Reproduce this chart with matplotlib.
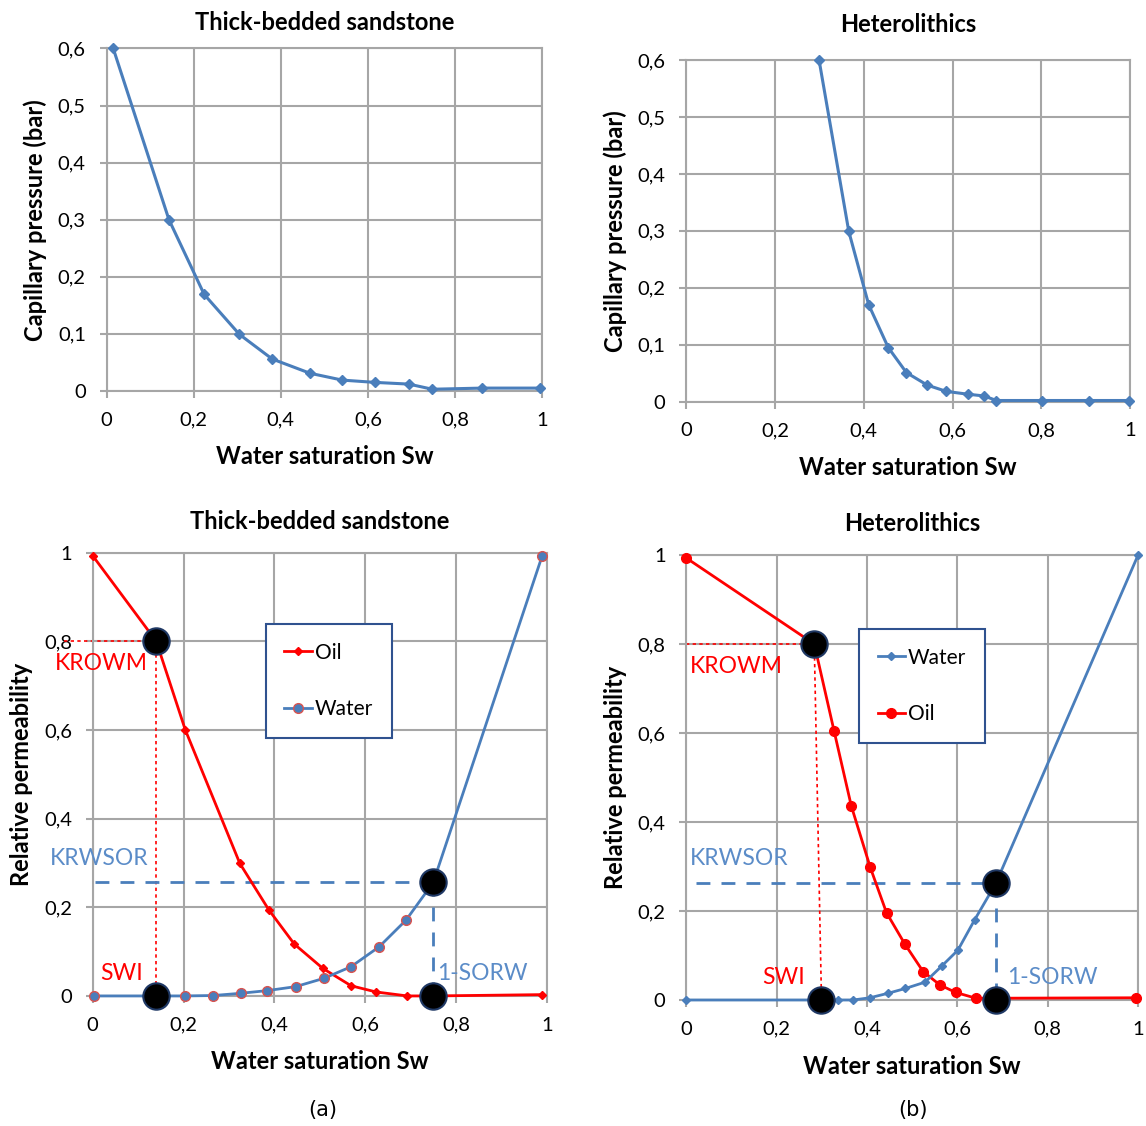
import matplotlib
matplotlib.use('Agg')
import matplotlib.pyplot as plt
from matplotlib.ticker import FuncFormatter, MultipleLocator

plt.rcParams['font.family'] = ['Lato', 'DejaVu Sans']

BLUE = '#4A7EBB'
LBLUE = '#5B8CC8'
RED = '#FF0000'
GRID = '#A6A6A6'

# capillary pressure, thick-bedded sandstone
pc_sand_sw = [0.015, 0.143, 0.224, 0.305, 0.380, 0.467, 0.541, 0.616, 0.694, 0.748, 0.863, 0.995]
pc_sand = [0.600, 0.300, 0.169, 0.099, 0.056, 0.031, 0.019, 0.015, 0.012, 0.003, 0.005, 0.005]

# capillary pressure, heterolithics
pc_het_sw = [0.299, 0.366, 0.411, 0.455, 0.496, 0.543, 0.586, 0.635, 0.671, 0.699, 0.802, 0.908, 0.998]
pc_het = [0.600, 0.299, 0.170, 0.095, 0.051, 0.029, 0.018, 0.013, 0.010, 0.002, 0.002, 0.002, 0.002]

# relative permeability, thick-bedded sandstone
kro_sand_sw = [0.0, 0.14, 0.204, 0.324, 0.388, 0.444, 0.507, 0.569, 0.624, 0.693, 0.75, 0.99]
kro_sand = [0.993, 0.80, 0.60, 0.299, 0.194, 0.117, 0.062, 0.023, 0.009, 0.0, 0.0, 0.003]
krw_sand_sw = [0.003, 0.14, 0.203, 0.266, 0.326, 0.384, 0.447, 0.510, 0.569, 0.631, 0.690, 0.750, 0.99]
krw_sand = [0.0, 0.0, 0.0, 0.001, 0.006, 0.012, 0.021, 0.040, 0.066, 0.111, 0.171, 0.256, 0.993]

# relative permeability, heterolithics
kro_het_sw = [0.0, 0.283, 0.327, 0.365, 0.407, 0.443, 0.484, 0.524, 0.561, 0.596, 0.641, 0.685, 0.996]
kro_het = [0.993, 0.80, 0.604, 0.436, 0.298, 0.196, 0.125, 0.064, 0.034, 0.017, 0.004, 0.004, 0.005]
krw_het_sw = [0.0, 0.299, 0.336, 0.369, 0.406, 0.446, 0.485, 0.528, 0.565, 0.601, 0.638, 0.685, 1.0]
krw_het = [0.0, 0.0, 0.0, 0.0, 0.005, 0.015, 0.026, 0.040, 0.076, 0.112, 0.180, 0.262, 1.0]

# end points: (sw at krowm, krowm, swi, 1-sorw, krwsor)
ends_sand = (0.14, 0.80, 0.14, 0.75, 0.256)
ends_het = (0.283, 0.80, 0.299, 0.685, 0.262)


def comma(v, pos):
    s = '{:g}'.format(round(v, 2))
    return s.replace('.', ',')


def style_axes(ax, ymax, ystep):
    ax.set_xlim(0, 1)
    ax.set_ylim(0, ymax)
    ax.xaxis.set_major_locator(MultipleLocator(0.2))
    ax.yaxis.set_major_locator(MultipleLocator(ystep))
    ax.xaxis.set_major_formatter(FuncFormatter(comma))
    ax.yaxis.set_major_formatter(FuncFormatter(comma))
    ax.grid(True, color=GRID, lw=1.5)
    ax.set_axisbelow(True)
    for s in ax.spines.values():
        s.set_color(GRID)
        s.set_linewidth(1.5)
    ax.tick_params(direction='out', length=5, width=1.5, color=GRID,
                   labelsize=14.5, pad=10)
    ax.set_xlabel('Water saturation Sw', fontsize=17, fontweight='bold',
                  labelpad=12)


def cap_plot(ax, sw, pc, title, tpad):
    ax.plot(sw, pc, color=BLUE, lw=2.2, marker='D', ms=5, clip_on=False,
            zorder=3)
    style_axes(ax, 0.6, 0.1)
    ax.set_title(title, fontsize=17, fontweight='bold', pad=tpad)
    ax.set_ylabel('Capillary pressure (bar)', fontsize=17,
                  fontweight='bold', labelpad=8)


def relperm_plot(ax, oil, water, ends, order, title, oil_mk, water_mk,
                 leg_x, leg_y, text_x):
    (kro_sw, kro), (krw_sw, krw) = oil, water
    sw_k, krowm, swi, sorw, krwsor = ends
    style_axes(ax, 1.0, 0.2)
    ax.set_title(title, fontsize=17, fontweight='bold', pad=17)
    ax.set_ylabel('Relative permeability', fontsize=17, fontweight='bold',
                  labelpad=8)

    # guide lines to the end points
    ax.plot([text_x[0], sw_k], [krowm, krowm], color=RED, lw=1.2, ls=(0, (2, 2)),
            clip_on=False, zorder=2)
    ax.plot([sw_k, swi], [krowm, 0], color=RED, lw=1.2, ls=(0, (2, 2)),
            zorder=2)
    ax.plot([text_x[1], sorw], [krwsor, krwsor], color=BLUE, lw=2,
            ls=(0, (5, 4)), zorder=2)
    ax.plot([sorw, sorw], [krwsor, 0], color=BLUE, lw=2, ls=(0, (5, 4)),
            zorder=2)

    lines = {}
    lines['Oil'], = ax.plot(kro_sw, kro, color=RED, lw=2, label='Oil',
                            clip_on=False, zorder=3, **oil_mk)
    lines['Water'], = ax.plot(krw_sw, krw, color=BLUE, lw=2, label='Water',
                              clip_on=False, zorder=3, **water_mk)

    # end point circles
    ax.plot([sw_k, swi, sorw, sorw], [krowm, 0, krwsor, 0], ls='none',
            marker='o', ms=19, mfc='black', mec='#1F3864', mew=1.5,
            clip_on=False, zorder=5)

    ax.text(text_x[2], krowm - 0.05, 'KROWM', color=RED, fontsize=16.5,
            va='center', ha='left')
    ax.text(text_x[3], krwsor + 0.055, 'KRWSOR', color=LBLUE, fontsize=16.5,
            va='center', ha='left')
    ax.text(text_x[4], 0.05, 'SWI', color=RED, fontsize=16.5, va='center',
            ha='left')
    ax.text(sorw + text_x[5], 0.05, '1-SORW', color=LBLUE, fontsize=16.5,
            va='center', ha='left')

    leg = ax.legend([lines[k] for k in order], order, loc='upper left',
                    bbox_to_anchor=(leg_x, leg_y), fontsize=15,
                    labelspacing=1.75, handlelength=1.3, handletextpad=0.15,
                    borderpad=0.9, fancybox=False, framealpha=1,
                    borderaxespad=0)
    leg.get_frame().set_edgecolor('#2F528F')
    leg.get_frame().set_linewidth(1.5)
    leg.set_zorder(6)


fig = plt.figure(figsize=(11.46, 11.26), dpi=100)

ax1 = fig.add_axes([0.0931, 0.6528, 0.3799, 0.3042])
cap_plot(ax1, pc_sand_sw, pc_sand, 'Thick-bedded sandstone', 13)

ax2 = fig.add_axes([0.599, 0.6433, 0.387, 0.3034])
cap_plot(ax2, pc_het_sw, pc_het, 'Heterolithics', 20)

ax3 = fig.add_axes([0.0809, 0.1155, 0.3962, 0.3937])
relperm_plot(ax3, (kro_sand_sw, kro_sand), (krw_sand_sw, krw_sand),
             ends_sand, ['Oil', 'Water'], 'Thick-bedded sandstone',
             dict(marker='D', ms=4.5),
             dict(marker='o', ms=7, mec='#D9534F', mew=1),
             0.381, 0.839, (-0.063, 0.005, -0.083, -0.094, 0.016, 0.009))

ax4 = fig.add_axes([0.599, 0.1119, 0.3941, 0.3952])
relperm_plot(ax4, (kro_het_sw, kro_het), (krw_het_sw, krw_het),
             ends_het, ['Water', 'Oil'], 'Heterolithics',
             dict(marker='o', ms=7),
             dict(marker='D', ms=4.5),
             0.382, 0.834, (0.0, 0.022, 0.007, 0.007, 0.167, 0.024))

fig.text(0.282, 0.009, '(a)', fontsize=15, ha='center', family='DejaVu Sans')
fig.text(0.797, 0.009, '(b)', fontsize=15, ha='center', family='DejaVu Sans')

plt.savefig('out.png', dpi=100)
